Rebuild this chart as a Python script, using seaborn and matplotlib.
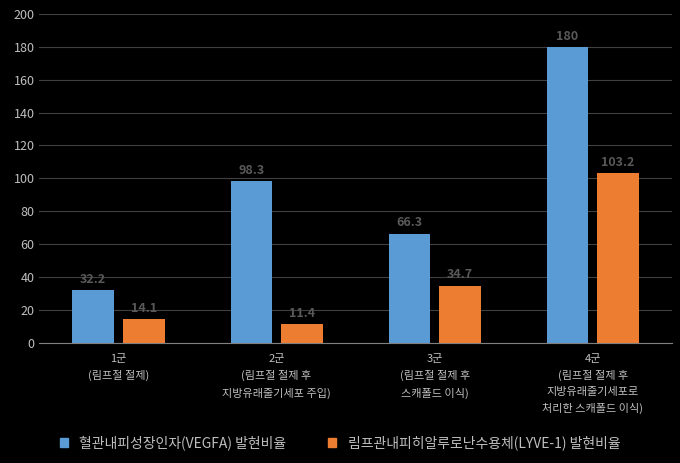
import matplotlib
matplotlib.use("Agg")
import matplotlib.pyplot as plt
import seaborn as sns
import pandas as pd
from matplotlib.patches import Patch

plt.rcParams["font.family"] = ["Noto Sans CJK JP", "Noto Sans CJK KR", "DejaVu Sans"]

categories = ["1군\n(림프절 절제)", "2군\n(림프절 절제 후\n지방유래줄기세포 주입)",
              "3군\n(림프절 절제 후\n스캐폴드 이식)", "4군\n(림프절 절제 후\n지방유래줄기세포로\n처리한 스캐폴드 이식)"]
series = ["혈관내피성장인자(VEGFA) 발현비율", "림프관내피히알루로난수용체(LYVE-1) 발현비율"]
vegfa = [32.2, 98.3, 66.3, 180]
lyve1 = [14.1, 11.4, 34.7, 103.2]
yticks = list(range(0, 201, 20))

df = pd.DataFrame({"cat": categories * 2, "series": [series[0]] * 4 + [series[1]] * 4,
                   "val": vegfa + lyve1})

fig = plt.figure(figsize=(6.8, 4.63), dpi=100, facecolor="black")
ax = fig.add_axes([0.058, 0.26, 0.93, 0.71])
ax.set_facecolor("black")
sns.barplot(data=df, x="cat", y="val", hue="series", palette=["#5b9bd5", "#ed7d31"],
            saturation=1, width=0.64, gap=0.18, ax=ax, legend=False)
for c in ax.containers:
    ax.bar_label(c, fmt="%g", color="#595959", fontsize=9, fontweight="bold", padding=3)
ax.set_ylim(0, 200)
ax.set_yticks(yticks)
ax.grid(axis="y", color="#404040", lw=0.8)
ax.set_axisbelow(True)
for s in ["top", "right", "left"]:
    ax.spines[s].set_visible(False)
ax.spines["bottom"].set_color("#808080")
ax.tick_params(colors="#bfbfbf", length=0, labelsize=9)
ax.tick_params(axis="x", labelsize=8, pad=8)
for t in ax.get_xticklabels():
    t.set_linespacing(1.7)
ax.set_xlabel(""); ax.set_ylabel("")
fig.legend(handles=[Patch(color="#5b9bd5", label=series[0]), Patch(color="#ed7d31", label=series[1])],
           loc="lower center", bbox_to_anchor=(0.5, 0.0), ncol=2, frameon=False,
           labelcolor="#bfbfbf", fontsize=10, handlelength=0.6, handleheight=0.6, columnspacing=3)
fig.savefig("out.png", facecolor="black")
